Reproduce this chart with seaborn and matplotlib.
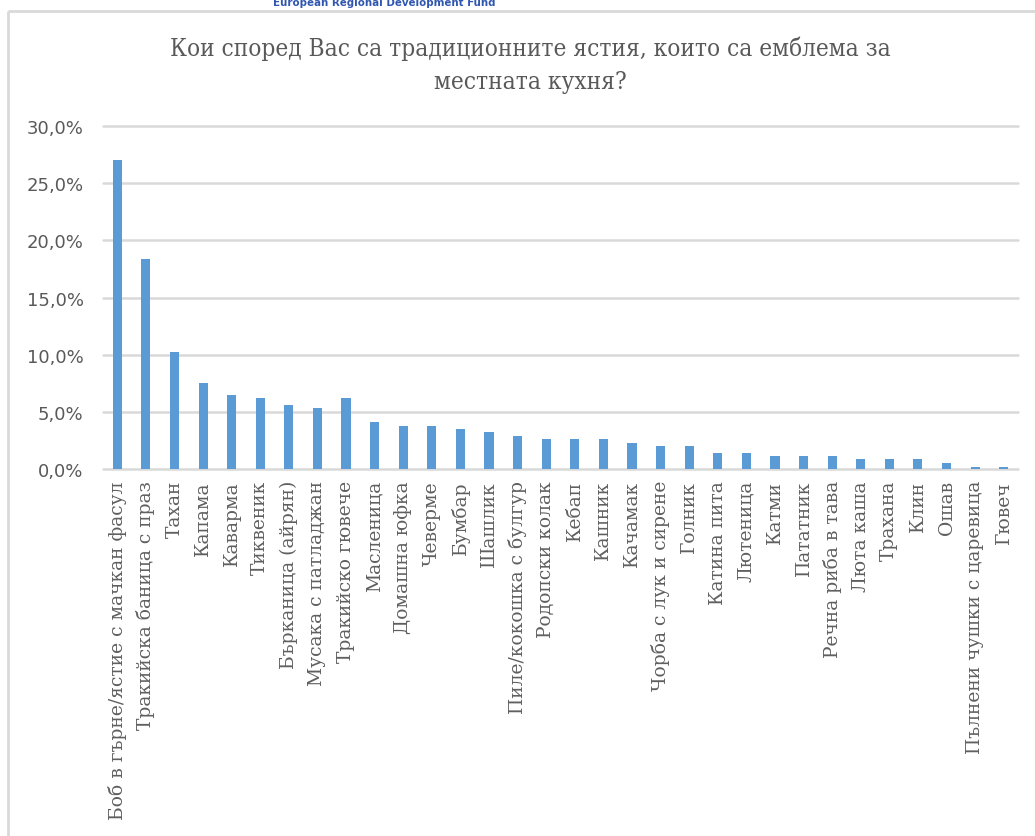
import matplotlib
matplotlib.use("Agg")
import matplotlib.pyplot as plt
from matplotlib.lines import Line2D
from matplotlib.ticker import FuncFormatter
import seaborn as sns
import pandas as pd

# Dishes named by respondents and share of answers (%)
dishes = [
    "Боб в гърне/ястие с мачкан фасул",
    "Тракийска баница с праз",
    "Тахан",
    "Капама",
    "Каварма",
    "Тиквеник",
    "Бърканица (айрян)",
    "Мусака с патладжан",
    "Тракийско гювече",
    "Масленица",
    "Домашна юфка",
    "Чеверме",
    "Бумбар",
    "Шашлик",
    "Пиле/кокошка с булгур",
    "Родопски колак",
    "Кебап",
    "Кашник",
    "Качамак",
    "Чорба с лук и сирене",
    "Голник",
    "Катина пита",
    "Лютеница",
    "Катми",
    "Пататник",
    "Речна риба в тава",
    "Люта каша",
    "Трахана",
    "Клин",
    "Ошав",
    "Пълнени чушки с царевица",
    "Гювеч",
]
shares = [
    27.0, 18.4, 10.2, 7.5, 6.5, 6.2, 5.6, 5.3, 6.2, 4.1,
    3.8, 3.8, 3.5, 3.2, 2.9, 2.6, 2.6, 2.6, 2.3, 2.0,
    2.0, 1.4, 1.4, 1.1, 1.1, 1.1, 0.9, 0.9, 0.9, 0.5,
    0.15, 0.15,
]
y_ticks = [0, 5, 10, 15, 20, 25, 30]

title_text = "Кои според Вас са традиционните ястия, които са емблема за\nместната кухня?"
header_text = "European Regional Development Fund"

df = pd.DataFrame({"dish": dishes, "share": shares})

sns.set_style("white")
plt.rcParams["font.family"] = ["DejaVu Sans"]

W, H = 1035, 837
fig = plt.figure(figsize=(W / 100, H / 100), dpi=100)
ax = fig.add_axes([103 / W, 1 - 470 / H, (1018 - 103) / W, (470 - 127) / H])

sns.barplot(data=df, x="dish", y="share", color="#5B9BD5", width=0.32,
            saturation=1, linewidth=0, ax=ax, zorder=3)

ax.set_xlim(-0.5, len(dishes) - 0.5)
ax.set_ylim(0, 30)
ax.set_yticks(y_ticks)
ax.yaxis.set_major_formatter(FuncFormatter(lambda v, p: f"{v:.1f}%".replace(".", ",")))
ax.grid(axis="y", color="#d9d9d9", linewidth=1.8, zorder=0)
ax.grid(axis="x", visible=False)
for gl in ax.get_ygridlines():
    gl.set_clip_on(False)
for s in ax.spines.values():
    s.set_visible(False)
ax.set_xlabel("")
ax.set_ylabel("")

ax.tick_params(axis="y", length=0, pad=14, labelsize=13, labelcolor="#595959")
ax.tick_params(axis="x", length=0, pad=8, labelcolor="#5f5f5f")
ax.set_xticks(range(len(dishes)))
ax.set_xticklabels(dishes, rotation=90, fontsize=13.5, family="DejaVu Serif",
                   va="top", ha="center")

# chart title
fig.text(530 / W, 1 - 65 / H, title_text, ha="center", va="center",
         fontsize=17.5, color="#595959", family="DejaVu Serif",
         fontstretch="condensed", linespacing=1.55)

# outer chart frame (top and left edges)
fig.add_artist(Line2D([8 / W, 8 / W], [0, 1 - 12 / H], transform=fig.transFigure,
                      color="#d9d9d9", linewidth=2, solid_capstyle="butt"))
fig.add_artist(Line2D([8 / W, 1], [1 - 12 / H, 1 - 12 / H], transform=fig.transFigure,
                      color="#d9d9d9", linewidth=2, solid_capstyle="butt"))

# banner text above the frame
fig.text(384 / W, 1 - 3 / H, header_text, ha="center", va="center",
         fontsize=7.4, fontweight="bold", color="#3057b0")

fig.savefig("out.png", dpi=100, facecolor="white")
